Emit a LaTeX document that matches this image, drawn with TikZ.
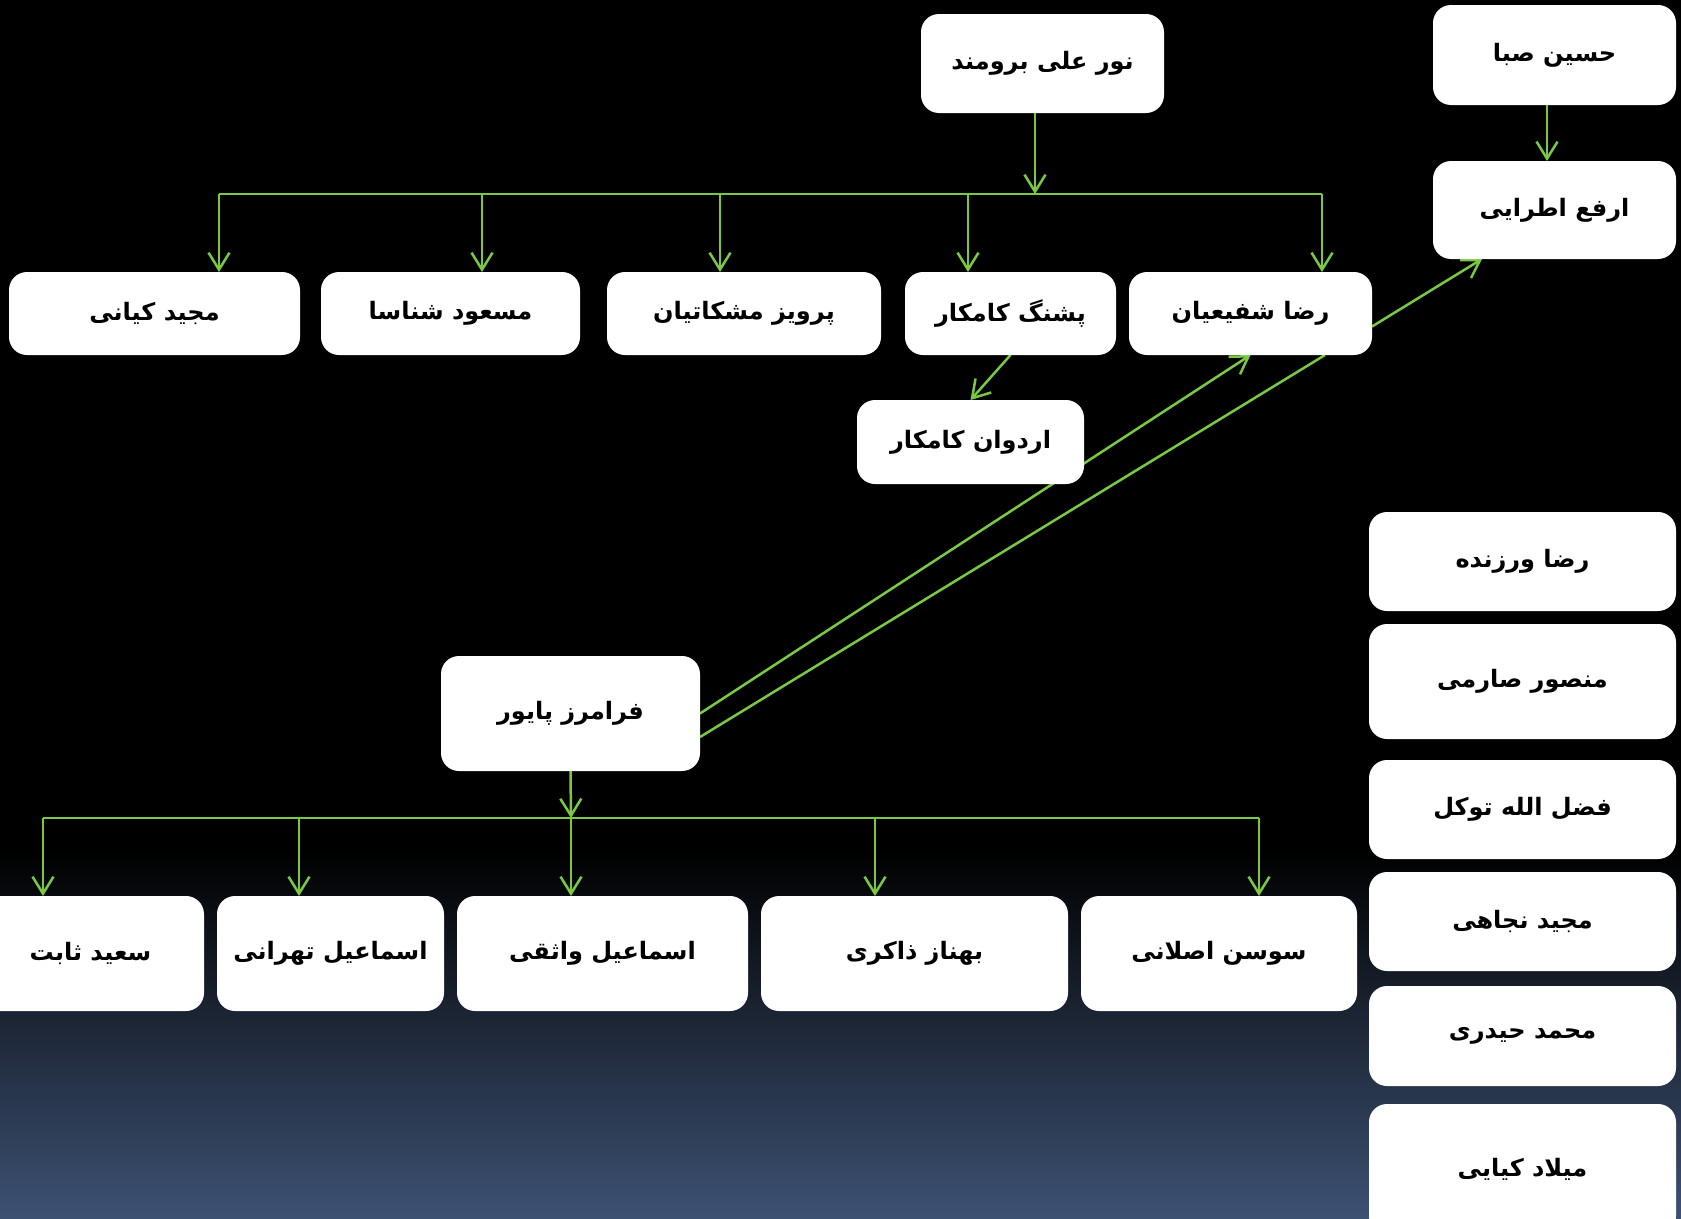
\documentclass[tikz,border=0pt]{standalone}
\usepackage{fontspec}
\newfontfamily\fa[Script=Arabic]{DejaVu Sans}
\TeXXeTstate=1
\usetikzlibrary{arrows.meta,calc}
\definecolor{lgreen}{HTML}{7AC943}
\definecolor{bgblue}{HTML}{3D5172}
\pgfdeclarelayer{bglayer}
\pgfdeclarelayer{linelayer}
\pgfsetlayers{bglayer,linelayer,main}
\begin{document}
\begin{tikzpicture}[x=1pt,y=-1pt,
  person/.style={fill=white, rounded corners=18pt, inner sep=0pt, outer sep=0pt,
    font=\fa\bfseries\fontsize{24}{28}\selectfont, text=black},
  conn/.style={draw=lgreen, line width=2.5pt},
  arr/.style={conn, -{Straight Barb[length=17pt,width=21pt]}}
]
\useasboundingbox (0,0) rectangle (1681,1218);
\begin{pgfonlayer}{bglayer}
  \fill[black] (0,0) rectangle (1681,1218);
  \shade[top color=black, bottom color=bgblue] (0,850) rectangle (1681,1218);
\end{pgfonlayer}

% top level
\node[person, minimum width=243pt, minimum height=99pt] (nour) at (1042.5,63.5) {\beginR نور علی برومند\endR};
\node[person, minimum width=243pt, minimum height=100pt] (hossein) at (1554.5,55) {\beginR حسین صبا\endR};
\node[person, minimum width=243pt, minimum height=98pt] (arfa) at (1554.5,210) {\beginR ارفع اطرایی\endR};

% second row
\node[person, minimum width=291pt, minimum height=83pt] (kiani) at (154.5,313.5) {\beginR مجید کیانی\endR};
\node[person, minimum width=259pt, minimum height=83pt] (shenasa) at (450.5,313.5) {\beginR مسعود شناسا\endR};
\node[person, minimum width=274pt, minimum height=83pt] (meshkatian) at (744,313.5) {\beginR پرویز مشکاتیان\endR};
\node[person, minimum width=211pt, minimum height=83pt] (pashang) at (1010.5,313.5) {\beginR پشنگ کامکار\endR};
\node[person, minimum width=243pt, minimum height=83pt] (reza) at (1250.5,313.5) {\beginR رضا شفیعیان\endR};

\node[person, minimum width=227pt, minimum height=84pt] (ardavan) at (970.5,442) {\beginR اردوان کامکار\endR};
\node[person, minimum width=259pt, minimum height=115pt] (faramarz) at (570.5,713.5) {\beginR فرامرز پایور\endR};

% bottom row
\node[person, minimum width=227pt, minimum height=115pt] (sabet) at (90.5,953.5) {\beginR سعید ثابت\endR};
\node[person, minimum width=227pt, minimum height=115pt] (tehrani) at (330.5,953.5) {\beginR اسماعیل تهرانی\endR};
\node[person, minimum width=291pt, minimum height=115pt] (vaseghi) at (602.5,953.5) {\beginR اسماعیل واثقی\endR};
\node[person, minimum width=307pt, minimum height=115pt] (zakeri) at (914.5,953.5) {\beginR بهناز ذاکری\endR};
\node[person, minimum width=276pt, minimum height=115pt] (aslani) at (1219,953.5) {\beginR سوسن اصلانی\endR};

% right column
\node[person, minimum width=307pt, minimum height=99pt] (varzandeh) at (1522.5,561.5) {\beginR رضا ورزنده\endR};
\node[person, minimum width=307pt, minimum height=115pt] (saremi) at (1522.5,681.5) {\beginR منصور صارمی\endR};
\node[person, minimum width=307pt, minimum height=99pt] (tavakol) at (1522.5,809.5) {\beginR فضل الله توکل\endR};
\node[person, minimum width=307pt, minimum height=99pt] (nejahi) at (1522.5,921.5) {\beginR مجید نجاهی\endR};
\node[person, minimum width=307pt, minimum height=100pt] (heydari) at (1522.5,1036) {\beginR محمد حیدری\endR};
\node[person, minimum width=307pt, minimum height=130pt] (kiaei) at (1522.5,1169) {\beginR میلاد کیایی\endR};

% bus coordinates
\coordinate (tc) at (1035,194);
\coordinate (t1) at (219,194);
\coordinate (t2) at (482,194);
\coordinate (t3) at (720,194);
\coordinate (t4) at (968,194);
\coordinate (t5) at (1322,194);
\coordinate (uc) at (571,818);
\coordinate (u1) at (43,818);
\coordinate (u2) at (299,818);
\coordinate (u3) at (571,818);
\coordinate (u4) at (875,818);
\coordinate (u5) at (1259,818);

\begin{pgfonlayer}{linelayer}
  % from nour
  \draw[arr] (nour.south -| tc) -- (tc);
  \draw[conn] (t1) -- (t5);
  \draw[arr] (t1) -- (t1 |- kiani.north);
  \draw[arr] (t2) -- (t2 |- shenasa.north);
  \draw[arr] (t3) -- (t3 |- meshkatian.north);
  \draw[arr] (t4) -- (t4 |- pashang.north);
  \draw[arr] (t5) -- (t5 |- reza.north);
  % saba -> arfa
  \draw[arr] ([xshift=-7.5pt]hossein.south) -- ([xshift=-7.5pt]arfa.north);
  % pashang -> ardavan
  \draw[arr] (pashang.south) -- (ardavan.north);
  % faramarz <-> reza
  \draw[arr] (faramarz.east) -- (reza.south);
  \draw[conn] ([xshift=74.5pt]reza.south) -- ([yshift=-23.5pt]faramarz.east);
  % reza -> arfa
  \draw[arr] ([yshift=-13pt]reza.east) -- ([xshift=-72.5pt]arfa.south);
  % from faramarz
  \draw[arr] (faramarz.south) -- (uc);
  \draw[conn] (u1) -- (u5);
  \draw[arr] (u1) -- (u1 |- sabet.north);
  \draw[arr] (u2) -- (u2 |- tehrani.north);
  \draw[arr] (u3) -- (u3 |- vaseghi.north);
  \draw[arr] (u4) -- (u4 |- zakeri.north);
  \draw[arr] (u5) -- (u5 |- aslani.north);
\end{pgfonlayer}
\end{tikzpicture}
\end{document}
